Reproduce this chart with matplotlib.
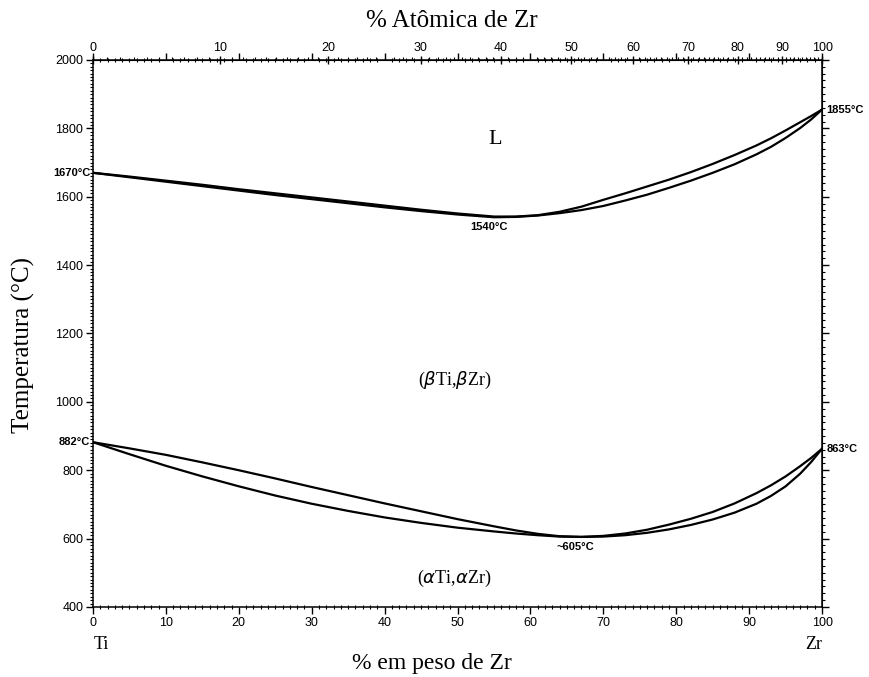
import matplotlib
matplotlib.use('Agg')
import matplotlib.pyplot as plt
import matplotlib.transforms as mtransforms
from matplotlib.ticker import MultipleLocator, FixedLocator, NullFormatter
import numpy as np

# massas atomicas para o eixo superior (% atomica)
M_TI = 47.87
M_ZR = 91.22

# composicao (% em peso de Zr) usada pelas curvas
wt = [0, 5, 10, 15, 20, 25, 30, 35, 40, 45, 50, 55, 58, 61, 64, 67, 70, 73, 76, 79, 82, 85, 88, 91, 93, 95,
      97, 98.5, 100]

# liquidus / solidus
liquidus = [1670, 1659, 1647, 1635, 1622, 1610, 1598, 1586, 1574, 1562, 1551, 1542, 1542, 1546, 1556, 1571,
            1591, 1610, 1630, 1650, 1672, 1696, 1722, 1750, 1771, 1794, 1818, 1836, 1855]
solidus = [1670, 1657, 1644, 1631, 1618, 1605, 1593, 1581, 1569, 1558, 1548, 1540, 1541, 1545, 1552, 1561,
           1573, 1589, 1606, 1626, 1647, 1670, 1695, 1724, 1746, 1772, 1801, 1826, 1855]

# transus beta -> alfa
beta_transus = [882, 864, 845, 823, 800, 776, 751, 727, 703, 680, 657, 636, 624, 614, 607, 605,
                608, 615, 626, 641, 658, 678, 703, 733, 756, 782, 812, 836, 863]
alpha_transus = [882, 847, 813, 782, 753, 726, 702, 681, 662, 646, 632, 621, 615, 610, 606, 605,
                 606, 610, 617, 627, 640, 656, 676, 702, 725, 753, 790, 824, 863]

at_ticks = [0, 10, 20, 30, 40, 50, 60, 70, 80, 90, 100]
t_ticks = [400, 600, 800, 1000, 1200, 1400, 1600, 1800, 2000]


def wt2at(w):
    w = np.asarray(w, dtype=float)
    a = w / M_ZR
    b = (100 - w) / M_TI
    return 100 * a / (a + b)


def at2wt(x):
    x = np.asarray(x, dtype=float)
    a = x * M_ZR
    b = (100 - x) * M_TI
    return 100 * a / (a + b)


def same(v):
    return v


sans = 'Liberation Sans'
serif = 'Liberation Serif'

fig = plt.figure(figsize=(8.69, 6.77), dpi=100)
ax = fig.add_axes([0.107, 0.1034, 0.839, 0.808])

ax.plot(wt, liquidus, color='black', lw=1.6)
ax.plot(wt, solidus, color='black', lw=1.6)
ax.plot(wt, beta_transus, color='black', lw=1.6)
ax.plot(wt, alpha_transus, color='black', lw=1.6)

ax.set_xlim(0, 100)
ax.set_ylim(400, 2000)

ax.xaxis.set_major_locator(MultipleLocator(10))
ax.xaxis.set_minor_locator(MultipleLocator(1))
ax.yaxis.set_major_locator(FixedLocator(t_ticks))
ax.yaxis.set_minor_locator(MultipleLocator(10))
ax.tick_params(axis='x', which='major', direction='out', length=5, width=1, labelsize=9, pad=2)
ax.tick_params(axis='x', which='minor', direction='inout', length=3, width=0.8)
ax.tick_params(axis='x', which='both', top=True)
ax.tick_params(axis='x', which='major', top=True, labeltop=False)
ax.tick_params(axis='y', which='major', direction='out', length=5, width=1, labelsize=9, pad=2)
ax.tick_params(axis='y', which='minor', direction='out', length=2.5, width=0.8)
for lab in ax.get_xticklabels() + ax.get_yticklabels():
    lab.set_family(sans)
for sp in ax.spines.values():
    sp.set_linewidth(1.1)

top = ax.secondary_xaxis('top', functions=(wt2at, at2wt))
top.xaxis.set_major_locator(FixedLocator(at_ticks))
top.xaxis.set_minor_locator(MultipleLocator(1))
top.tick_params(which='major', direction='inout', length=6, width=1, labelsize=9, pad=1)
top.tick_params(which='minor', direction='out', length=2, width=0.8)
for lab in top.get_xticklabels():
    lab.set_family(sans)

right = ax.secondary_yaxis('right', functions=(same, same))
right.yaxis.set_major_locator(FixedLocator(t_ticks))
right.yaxis.set_minor_locator(MultipleLocator(20))
right.yaxis.set_major_formatter(NullFormatter())
right.tick_params(which='major', direction='out', length=5, width=1)
right.tick_params(which='minor', direction='out', length=2.5, width=0.8)

# rotulos das fases e pontos
ax.text(55.2, 1766, 'L', family=serif, fontsize=16, ha='center', va='center')
ax.text(49.7, 1062, r'($\beta$Ti,$\beta$Zr)', family=serif, fontsize=13, ha='center', va='center')
ax.text(49.6, 484, r'($\alpha$Ti,$\alpha$Zr)', family=serif, fontsize=13, ha='center', va='center')
ax.text(54.3, 1512, '1540°C', family=sans, fontsize=8, fontweight='bold', ha='center', va='center')
ax.text(66.1, 576, '~605°C', family=sans, fontsize=8, fontweight='bold', ha='center', va='center')
ax.text(-0.4, 1670, '1670°C', family=sans, fontsize=8, fontweight='bold', ha='right', va='center')
ax.text(-0.4, 882, '882°C', family=sans, fontsize=8, fontweight='bold', ha='right', va='center')
ax.text(100.6, 1855, '1855°C', family=sans, fontsize=8, fontweight='bold', ha='left', va='center')
ax.text(100.6, 863, '863°C', family=sans, fontsize=8, fontweight='bold', ha='left', va='center')

trans = mtransforms.blended_transform_factory(ax.transData, ax.transAxes)
ax.text(1.2, -0.069, 'Ti', family=serif, fontsize=13, ha='center', va='center', transform=trans)
ax.text(98.8, -0.069, 'Zr', family=serif, fontsize=13, ha='center', va='center', transform=trans)

fig.text(0.52, 0.969, '% Atômica de Zr', family=serif, fontsize=18, ha='center', va='center')
fig.text(0.497, 0.02, '% em peso de Zr', family=serif, fontsize=17, ha='center', va='center')
fig.text(0.027, 0.49, 'Temperatura (°C)', family=serif, fontsize=18, ha='center', va='center', rotation=90)

fig.savefig('out.png', dpi=100)
